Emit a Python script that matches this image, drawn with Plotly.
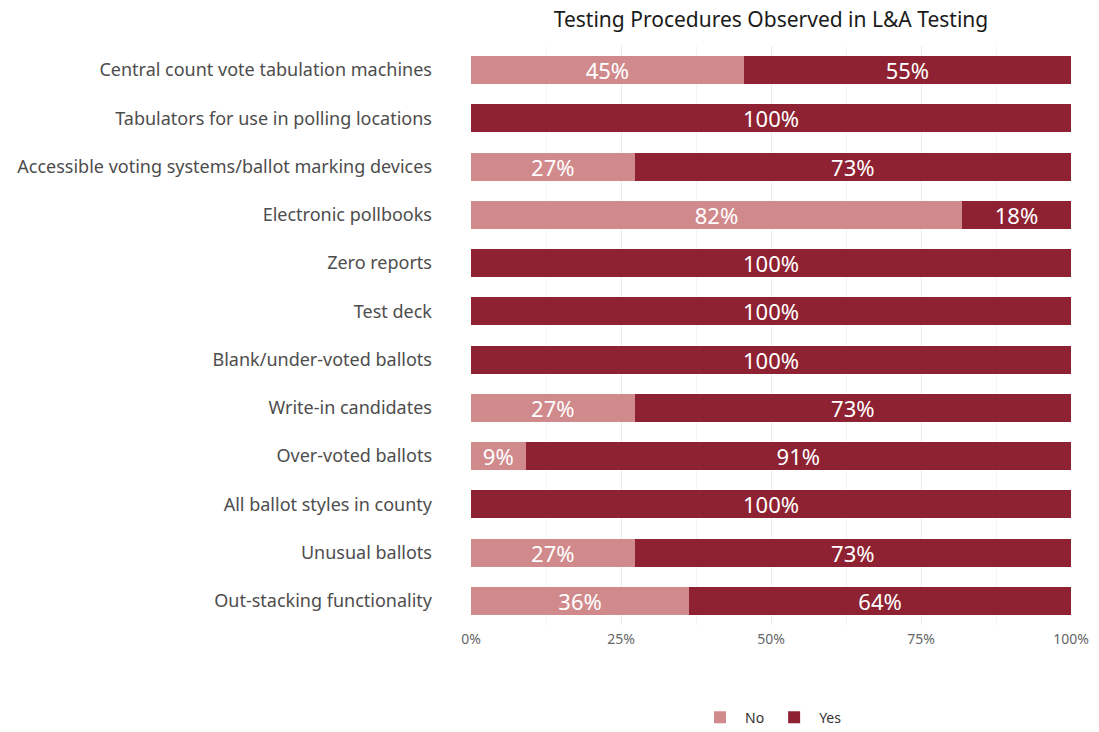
import plotly.graph_objects as go

categories = [
    "Central count vote tabulation machines",
    "Tabulators for use in polling locations",
    "Accessible voting systems/ballot marking devices",
    "Electronic pollbooks",
    "Zero reports",
    "Test deck",
    "Blank/under-voted ballots",
    "Write-in candidates",
    "Over-voted ballots",
    "All ballot styles in county",
    "Unusual ballots",
    "Out-stacking functionality",
]
no_pct = [45.45, 0, 27.27, 81.82, 0, 0, 0, 27.27, 9.09, 0, 27.27, 36.36]
yes_pct = [round(100 - v, 2) for v in no_pct]

NO_COLOR = "#D18A8C"
YES_COLOR = "#8E2232"
FONT = "Noto Sans"

# the page body has an 8px margin, so the figure is sized to fit inside it
W, H = 1091, 724


def _labels(values):
    return [f"{v:.0f}%" if v > 0 else "" for v in values]


fig = go.Figure()
for name, vals, color in (("No", no_pct, NO_COLOR), ("Yes", yes_pct, YES_COLOR)):
    fig.add_bar(
        y=categories, x=vals, name=name, orientation="h",
        marker_color=color, marker_line_width=0, text=_labels(vals),
        textposition="inside", insidetextanchor="middle",
        constraintext="none",
        textfont={"color": "white", "size": 22, "family": FONT},
    )

fig.update_layout(
    barmode="stack",
    bargap=0.42,
    width=W,
    height=H,
    margin={"l": 463, "r": 28, "t": 38, "b": 107, "autoexpand": False},
    plot_bgcolor="white",
    paper_bgcolor="white",
    font={"family": FONT, "color": "#4d4d4d"},
    title={
        "text": "Testing Procedures Observed in L&A Testing",
        "x": 763 / W, "xanchor": "center",
        "y": 1 - 12 / H, "yanchor": "middle",
        "font": {"size": 21, "color": "#1a1a1a", "family": FONT},
    },
    legend={
        "orientation": "h",
        "x": 0.5, "xanchor": "center",
        "y": -0.16, "yanchor": "middle",
        "font": {"size": 14, "color": "#333333"},
        "traceorder": "normal",
        "itemwidth": 40,
    },
    xaxis={
        "range": [0, 100],
        "tickvals": [0, 25, 50, 75, 100],
        "ticktext": ["0%", "25%", "50%", "75%", "100%"],
        "tickfont": {"size": 14, "color": "#666666"},
        "showgrid": True,
        "gridcolor": "#EBEBEB",
        "minor": {"dtick": 12.5, "showgrid": True, "gridcolor": "#F4F4F4"},
        "zeroline": False,
        "automargin": False,
        "ticklabelstandoff": 4,
    },
    yaxis={
        "autorange": "reversed",
        "tickfont": {"size": 18, "color": "#4d4d4d"},
        "ticks": "",
        "ticklabelstandoff": 38,
        "showgrid": True,
        "gridcolor": "#EBEBEB",
        "automargin": False,
    },
)

fig.write_html("out.html")
